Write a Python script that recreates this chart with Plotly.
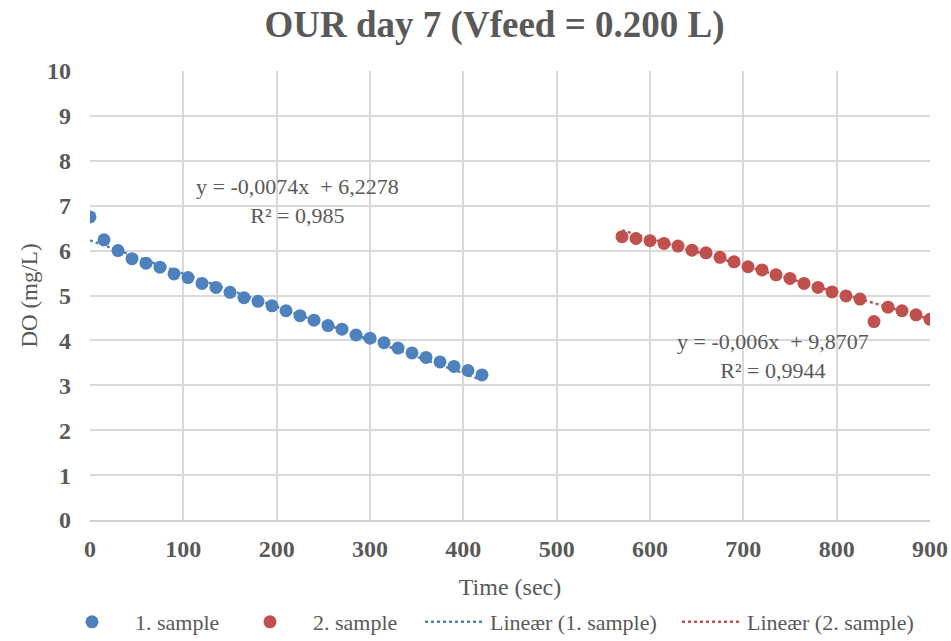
import numpy as np
import plotly.graph_objects as go

# Data
t1 = list(range(0, 421, 15))
do1 = [6.75, 6.24, 6.00, 5.82, 5.72, 5.63, 5.48, 5.40, 5.27, 5.18, 5.07, 4.95, 4.87, 4.77,
       4.66, 4.55, 4.45, 4.33, 4.25, 4.12, 4.05, 3.95, 3.83, 3.72, 3.62, 3.52, 3.42, 3.33, 3.23]
t2 = list(range(570, 901, 15))
do2 = [6.31, 6.27, 6.22, 6.16, 6.10, 6.01, 5.95, 5.85, 5.75, 5.64, 5.57, 5.46, 5.38, 5.27,
       5.18, 5.08, 4.99, 4.92, 4.42, 4.74, 4.66, 4.57, 4.47]
fit_slope = [-0.0074, -0.006]
fit_intercept = [6.2278, 9.8707]
fit_text = ["y = -0,0074x  + 6,2278<br>R² = 0,985", "y = -0,006x  + 9,8707<br>R² = 0,9944"]

blue = "#4F81BD"
red = "#C0504D"
serif = "Liberation Serif, Times New Roman, serif"
grey = "#595959"
W, H = 951, 641

fig = go.Figure()
fig.add_trace(go.Scatter(x=t1, y=do1, mode="markers", name="1. sample", legend="legend",
                         marker=dict(color=blue, size=13)))
fig.add_trace(go.Scatter(x=t2, y=do2, mode="markers", name="2. sample", legend="legend2",
                         marker=dict(color=red, size=13)))
for i, (tt, col, nm, lg) in enumerate([(t1, blue, "Lineær (1. sample)", "legend3"),
                                       (t2, red, "Lineær (2. sample)", "legend4")]):
    xs = np.array([tt[0], tt[-1]], dtype=float)
    ys = fit_slope[i] * xs + fit_intercept[i]
    fig.add_trace(go.Scatter(x=xs, y=ys, mode="lines", name=nm, legend=lg,
                             line=dict(color=col, width=2.5, dash="dot")))

fig.add_annotation(x=222, y=7.1, xref="x", yref="y", text=fit_text[0], showarrow=False,
                   font=dict(family=serif, size=22, color=grey), align="center")
fig.add_annotation(x=732, y=3.66, xref="x", yref="y", text=fit_text[1], showarrow=False,
                   font=dict(family=serif, size=22, color=grey), align="center")


def leg(left_px, iw):
    return dict(orientation="h", xref="container", yref="container",
                x=left_px / W, xanchor="left", y=(H - 622) / H, yanchor="middle",
                font=dict(family=serif, size=22, color=grey), itemwidth=iw,
                bgcolor="rgba(0,0,0,0)")


fig.update_layout(
    width=W, height=H,
    margin=dict(l=90, r=21, t=71, b=121),
    paper_bgcolor="white", plot_bgcolor="white",
    title=dict(text="<b>OUR day 7 (Vfeed = 0.200 L)</b>", x=0.52, xanchor="center",
               y=0.962, yanchor="middle",
               font=dict(family=serif, size=37, color=grey)),
    font=dict(family=serif, color=grey),
    legend=leg(49, 76),
    legend2=leg(227, 76),
    legend3=leg(420, 60),
    legend4=leg(677, 60),
    showlegend=True,
)
fig.update_xaxes(range=[0, 900], dtick=100, showgrid=True, gridcolor="#d9d9d9", gridwidth=1.5,
                 zeroline=False, showline=True, linecolor="#d0d0d0", linewidth=1.5, ticks="",
                 ticklabelstandoff=6, automargin=False,
                 tickfont=dict(family=serif, size=24, color=grey, weight="bold"),
                 title=dict(text="Time (sec)", font=dict(family=serif, size=24, color=grey), standoff=18))
fig.update_yaxes(range=[0, 10], dtick=1, showgrid=True, gridcolor="#d9d9d9", gridwidth=1.5,
                 zeroline=False, ticks="", ticklabelstandoff=18, automargin=False,
                 tickfont=dict(family=serif, size=24, color=grey, weight="bold"),
                 title=dict(text="DO (mg/L)", font=dict(family=serif, size=23, color=grey), standoff=2))

fig.write_html("out.html")
